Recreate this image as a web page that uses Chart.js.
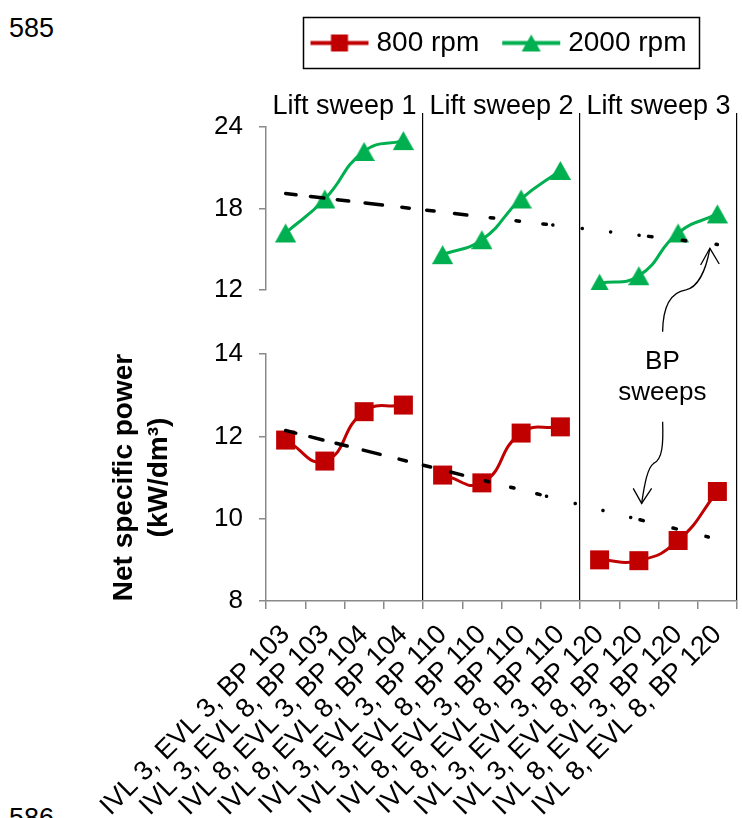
<!DOCTYPE html>
<html>
<head>
<meta charset="utf-8">
<title>Net specific power</title>
<script src="https://cdn.jsdelivr.net/npm/chart.js@4.4.1/dist/chart.umd.min.js"></script>
<style>
    body { margin: 0; background: #fff; }
    #wrap { position: relative; width: 742px; height: 818px; overflow: hidden; font-family: "Liberation Sans", Arial, sans-serif; }
    #myChart { position: absolute; left: 0; top: 0; }
    .lineNo { position: absolute; left: 9px; font-size: 27px; line-height: 1; color: #000; }
</style>
</head>
<body>
<div id="wrap">
    <div class="lineNo" style="top: 15px;">585</div>
    <div class="lineNo" style="top: 805px;">586</div>
    <canvas id="myChart" width="742" height="818"></canvas>
</div>
<script>
/* 데이터 */
const categories = [
    'IVL 3, EVL 3, BP 103', 'IVL 3, EVL 8, BP 103', 'IVL 8, EVL 3, BP 104', 'IVL 8, EVL 8, BP 104',
    'IVL 3, EVL 3, BP 110', 'IVL 3, EVL 8, BP 110', 'IVL 8, EVL 3, BP 110', 'IVL 8, EVL 8, BP 110',
    'IVL 3, EVL 3, BP 120', 'IVL 3, EVL 8, BP 120', 'IVL 8, EVL 3, BP 120', 'IVL 8, EVL 8, BP 120'
];
const sweepNames = ['Lift sweep 1', 'Lift sweep 2', 'Lift sweep 3'];
const sweepStarts = [0, 4, 8];
const sweepLength = 4;

const rpm800 = [11.91, 11.40, 12.60, 12.76, 11.06, 10.87, 12.08, 12.23, 9.00, 8.98, 9.47, 10.66];
const rpm2000 = [16.2, 18.7, 22.2, 23.0, 14.6, 15.7, 18.7, 20.8, 12.5, 13.05, 16.2, 17.6];

// BP sweep trend lines: value at first and last category
const trend800 = [12.14, 9.50];
const trend2000 = [19.10, 15.35];

const topRange = [12, 24, 6];      // min, max, step (2000 rpm)
const bottomRange = [8, 14, 2];    // min, max, step (800 rpm)

/* 스타일 */
const RED = '#C00000';
const GREEN = '#00B050';
const AXIS_GREY = '#898989';
const FONT = "'Liberation Sans', Arial, sans-serif";
const trendDash = [10.5, 14.5, 13.5, 13.5, 11.5, 16.5, 17.5, 19.5, 7.5, 17.5, 7.5, 20.5, 12.5, 23.5,
    3.5, 22.5, 3.5, 23.5, 3.5, 6.5, 0.1, 29.5, 0.1, 28.5, 0.1, 28.5, 0.1, 9.5, 3.5, 30.5, 3.5, 30.5, 2.5, 400];

Chart.defaults.font.family = FONT;
Chart.defaults.color = '#000';

function makeIcon(shape, color, size, lineLen) {
    let w = lineLen || size + 2;
    let h = size + 2;
    let c = document.createElement('canvas');
    c.width = w;
    c.height = h;
    let g = c.getContext('2d');
    let cx = w / 2, cy = h / 2;
    if (lineLen) {
        g.strokeStyle = color;
        g.lineWidth = 4;
        g.beginPath();
        g.moveTo(1, cy);
        g.lineTo(w - 1, cy);
        g.stroke();
    }
    g.fillStyle = color;
    if (shape === 'rect') {
        g.fillRect(cx - size / 2, cy - size / 2, size, size);
    } else {
        let tw = size * 1.12;
        g.beginPath();
        g.moveTo(cx, cy - size / 2);
        g.lineTo(cx + tw / 2, cy + size / 2);
        g.lineTo(cx - tw / 2, cy + size / 2);
        g.closePath();
        g.fill();
    }
    return c;
}

let datasets = [];

function addSweeps(values, name, color, shape, size, axisId) {
    let icon = makeIcon(shape, color, size);
    for (let s = 0; s < sweepStarts.length; s++) {
        let data = values.map((v, i) => (i >= sweepStarts[s] && i < sweepStarts[s] + sweepLength) ? v : null);
        datasets.push({
            label: name,
            data: data,
            xAxisID: 'x',
            yAxisID: axisId,
            borderColor: color,
            backgroundColor: color,
            borderWidth: 3,
            tension: 0.5,
            pointStyle: icon,
            pointRadius: 1,        // marker is the image, radius only keeps layout overflow small
            pointBorderWidth: 0,
            pointHoverRadius: 1,
            spanGaps: false,
            order: 1
        });
    }
}

function addTrend(ends, axisId) {
    let data = categories.map(() => null);
    data[0] = ends[0];
    data[categories.length - 1] = ends[1];
    datasets.push({
        label: 'BP sweep',
        data: data,
        xAxisID: 'x',
        yAxisID: axisId,
        borderColor: '#000',
        borderWidth: 3.5,
        borderDash: trendDash,
        borderCapStyle: 'round',
        pointRadius: 0,
        spanGaps: true,
        tension: 0,
        order: 0
    });
}

addSweeps(rpm800, '800 rpm', RED, 'rect', 19, 'yBot');
addSweeps(rpm2000, '2000 rpm', GREEN, 'triangle', 19, 'yTop');
addTrend(trend800, 'yBot');
addTrend(trend2000, 'yTop');

const legendIcons = [makeIcon('rect', RED, 17, 60), makeIcon('triangle', GREEN, 17, 60)];

function drawArrow(ctx, tx, ty, path, head) {
    ctx.beginPath();
    ctx.moveTo(tx + path[0][0], ty + path[0][1]);
    for (let i = 1; i + 2 < path.length; i += 3) {
        ctx.bezierCurveTo(tx + path[i][0], ty + path[i][1], tx + path[i + 1][0], ty + path[i + 1][1],
            tx + path[i + 2][0], ty + path[i + 2][1]);
    }
    ctx.stroke();
    ctx.beginPath();
    ctx.moveTo(tx + head[0][0], ty + head[0][1]);
    ctx.lineTo(tx, ty);
    ctx.lineTo(tx + head[1][0], ty + head[1][1]);
    ctx.stroke();
}

/* 범례 테두리 + BP sweeps 주석 */
const notesPlugin = {
    id: 'notes',
    afterDraw(chart) {
        let ctx = chart.ctx;
        let x = chart.scales.x;
        let yT = chart.scales.yTop;
        let yB = chart.scales.yBot;

        let hb = chart.legend.legendHitBoxes;
        if (hb && hb.length) {
            let l = Math.min(...hb.map(b => b.left)) - 13;
            let r = Math.max(...hb.map(b => b.left + b.width)) + 13;
            ctx.save();
            ctx.strokeStyle = '#000';
            ctx.lineWidth = 1.5;
            ctx.strokeRect(Math.round(l) + 0.5, 17.5, Math.round(r - l), 51);
            ctx.restore();
        }

        ctx.save();
        ctx.fillStyle = '#000';
        ctx.font = '26px ' + FONT;
        ctx.textAlign = 'center';
        ctx.textBaseline = 'middle';
        let tx = x.getPixelForValue(9.6);
        ctx.fillText('BP', tx, yB.getPixelForValue(13.81));
        ctx.fillText('sweeps', tx, yB.getPixelForValue(13.06));

        ctx.strokeStyle = '#000';
        ctx.lineWidth = 1.3;
        drawArrow(ctx, x.getPixelForValue(10.81), yT.getPixelForValue(15.07),
            [[-47.3, 83.4], [-47, 60], [-40, 44], [-24, 41.5], [-12, 39], [-4, 22], [0, 0]],
            [[-9.3, 16.7], [9.3, 15.7]]);
        drawArrow(ctx, x.getPixelForValue(9.07), yB.getPixelForValue(10.37),
            [[21, -81.6], [21.8, -60], [21, -44], [12, -40], [6, -36], [3, -20], [0, 0]],
            [[-8.4, -15], [10, -15]]);
        ctx.restore();
    }
};

let ctx = document.getElementById('myChart').getContext('2d');

let myChart = new Chart(ctx, {
    type: 'line',
    data: {
        labels: categories,
        datasets: datasets
    },
    plugins: [notesPlugin],
    options: {
        responsive: false,
        animation: false,
        devicePixelRatio: 1,
        layout: {
            padding: { left: 100, right: 5, top: 0, bottom: 0 }
        },
        plugins: {
            tooltip: { enabled: false },
            legend: {
                position: 'top',
                fullSize: false,
                labels: {
                    usePointStyle: true,
                    pointStyleWidth: 46,
                    boxHeight: 24,
                    padding: 29,
                    font: { size: 28 },
                    color: '#000',
                    generateLabels: () => [
                        { text: '800 rpm', pointStyle: legendIcons[0], fillStyle: RED, strokeStyle: RED, lineWidth: 0, fontColor: '#000', hidden: false, datasetIndex: 0 },
                        { text: '2000 rpm', pointStyle: legendIcons[1], fillStyle: GREEN, strokeStyle: GREEN, lineWidth: 0, fontColor: '#000', hidden: false, datasetIndex: 3 }
                    ]
                }
            }
        },
        scales: {
            x: {
                type: 'category',
                position: 'bottom',
                labels: categories,
                offset: true,
                grid: { offset: true, drawOnChartArea: false, tickLength: 8, color: AXIS_GREY, lineWidth: 1.5 },
                border: { color: AXIS_GREY, width: 1.5 },
                ticks: { autoSkip: false, minRotation: 45, maxRotation: 45, font: { size: 27 }, padding: 10 },
                afterFit: s => { s.height = 217; s.paddingLeft = 0; s.paddingRight = 0; }
            },
            xTop: {
                type: 'category',
                position: 'top',
                labels: sweepNames,
                offset: true,
                grid: {
                    offset: true, drawOnChartArea: true, drawTicks: true, tickLength: 14, lineWidth: 1.2,
                    color: c => c.index === 0 ? 'rgba(0,0,0,0)' : '#000'
                },
                border: { display: false },
                ticks: { autoSkip: false, maxRotation: 0, font: { size: 27 }, padding: -10 },
                afterFit: s => { s.height = Math.max(0, 127 - s.chart.legend.height); s.paddingLeft = 0; s.paddingRight = 0; }
            },
            yTop: {
                type: 'linear',
                axis: 'y',
                position: 'left',
                stack: 'power',
                stackWeight: 163,
                weight: 3,
                min: topRange[0],
                max: topRange[1],
                ticks: { stepSize: topRange[2], font: { size: 26 }, padding: 16 },
                grid: { drawOnChartArea: false, tickLength: 7, color: AXIS_GREY, lineWidth: 1.5 },
                border: { color: AXIS_GREY, width: 1.5 },
                afterFit: s => { s.width = 166; }
            },
            yGap: {
                type: 'linear',
                axis: 'y',
                position: 'left',
                stack: 'power',
                stackWeight: 64,
                weight: 2,
                display: false,
                afterFit: s => { s.width = 166; }
            },
            yBot: {
                type: 'linear',
                axis: 'y',
                position: 'left',
                stack: 'power',
                stackWeight: 247,
                weight: 1,
                min: bottomRange[0],
                max: bottomRange[1],
                ticks: { stepSize: bottomRange[2], font: { size: 26 }, padding: 16 },
                grid: { drawOnChartArea: false, tickLength: 7, color: AXIS_GREY, lineWidth: 1.5 },
                border: { color: AXIS_GREY, width: 1.5 },
                title: {
                    display: true,
                    text: ['Net specific power', '(kW/dm³)'],
                    font: { size: 28, weight: 'bold', lineHeight: 1.25 },
                    padding: { top: 7, bottom: 0 }
                },
                afterFit: s => { s.width = 166; }
            }
        }
    }
});
</script>
</body>
</html>
